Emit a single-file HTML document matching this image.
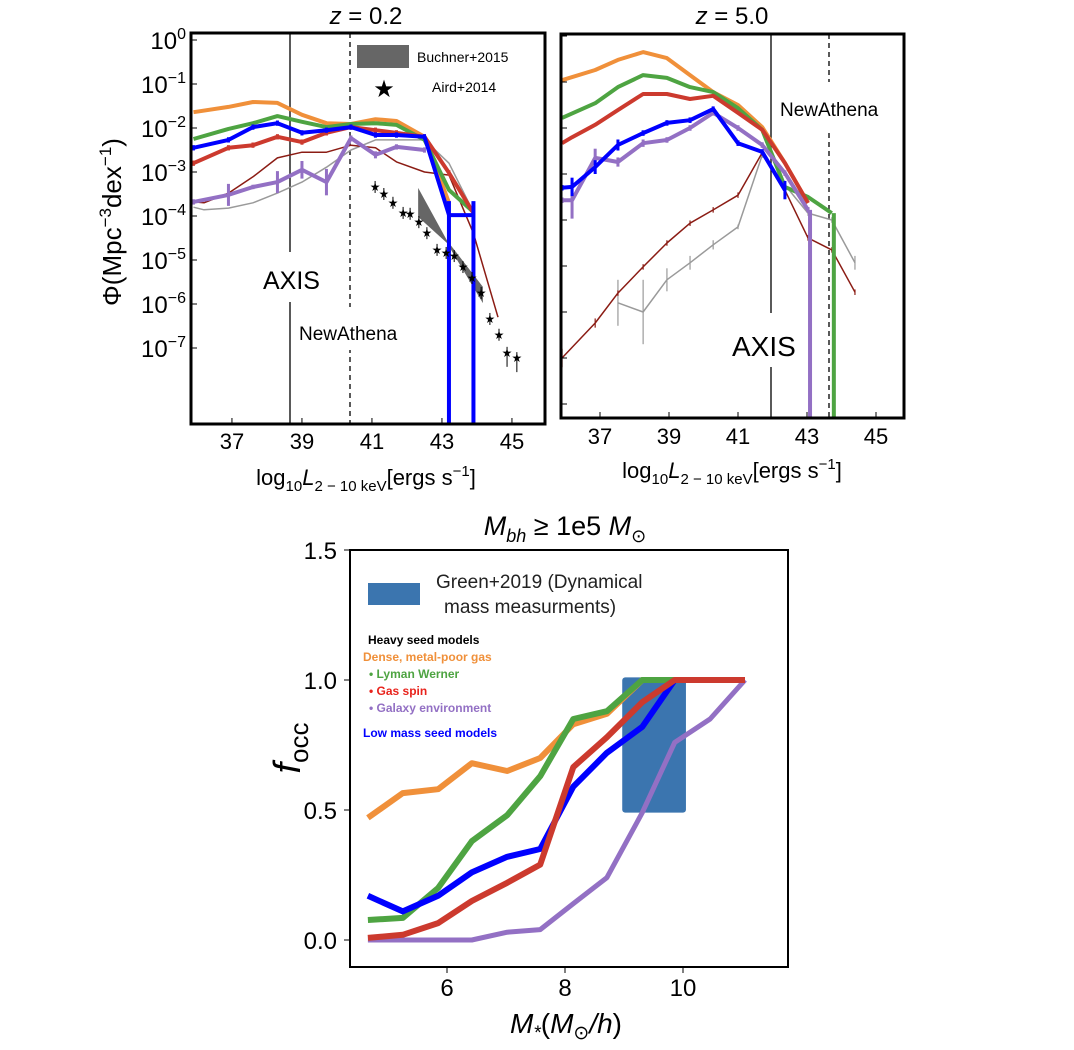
<!DOCTYPE html>
<html><head><meta charset="utf-8"><style>
html,body{margin:0;padding:0;background:#fff;}
svg{display:block;font-family:"Liberation Sans","DejaVu Sans",sans-serif;}
</style></head><body>
<svg id="fig" width="1074" height="1050" viewBox="0 0 1074 1050" xmlns="http://www.w3.org/2000/svg">
<defs>
<clipPath id="c1"><rect x="191" y="33" width="354" height="391"/></clipPath>
<clipPath id="c2"><rect x="561" y="34" width="343" height="384"/></clipPath>
<clipPath id="c3"><rect x="350" y="550" width="438" height="417"/></clipPath>
</defs>
<g id="p1"></g>
<g id="p2"></g>
<g id="p3"></g>
</svg>
<script>
// ---------- data: panel z=0.2 (log10 Phi) ----------
const xA = [35.9,36.9,37.6,38.3,39.0,39.7,40.4,41.1,41.7,42.5,43.2,43.9];
const orangeA = [-1.64,-1.52,-1.41,-1.43,-1.70,-1.89,-1.91,-1.80,-1.84,-2.20,-3.70];
const greenA = [-2.25,-2.02,-1.89,-1.73,-1.86,-1.98,-1.91,-1.89,-1.93,-2.27,-3.41,-3.91];
const blueA = [-2.45,-2.27,-1.98,-1.89,-2.11,-2.05,-1.98,-2.16,-2.16,-2.20,-3.98,-3.98];
const redA = [-2.80,-2.45,-2.39,-2.20,-2.32,-2.11,-1.98,-2.05,-2.11,-2.20,-3.02,-3.93];
const purpleA = [-3.68,-3.52,-3.34,-3.23,-2.95,-3.23,-2.23,-2.61,-2.43,-2.50];
const purpleErrA = [0,0.25,0.05,0.25,0.2,0.3,0,0.08,0.06,0.06];
const xBrownA = [35.9,36.2,36.9,37.6,38.3,39.0,39.7,40.4,41.1,41.7,42.5,43.2,43.9,44.6];
const brownA = [-3.68,-3.70,-3.48,-3.11,-2.68,-2.55,-2.55,-2.39,-2.45,-2.77,-3.0,-3.07,-4.39,-6.30];
const grayA = [-3.80,-3.86,-3.82,-3.70,-3.48,-3.23,-2.89,-2.50,-2.27,-2.27,-2.27,-2.80,-3.91];
const xGrayA = [35.9,36.2,36.9,37.6,38.3,39.0,39.7,40.4,41.1,41.7,42.5,43.2,43.9];
const airdX = [41.09,41.34,41.60,41.89,42.09,42.34,42.57,42.86,43.12,43.35,43.6,43.86,44.12,44.37,44.63,44.86,45.14];
const airdY = [-3.34,-3.50,-3.70,-3.93,-3.95,-4.14,-4.39,-4.77,-4.84,-4.91,-5.16,-5.41,-5.75,-6.34,-6.70,-7.11,-7.23];
const buchX = [42.32,43.14,44.17];
const buchHi = [-3.36,-4.55,-5.61];
const buchLo = [-4.02,-4.61,-5.98];
const yTicksA = [0,-1,-2,-3,-4,-5,-6,-7];
const xTicks = [37,39,41,43,45];
// ---------- data: panel z=5.0 ----------
const xB = [35.9,36.19,36.86,37.52,38.25,38.94,39.61,40.28,41.0,41.7,42.36,43.03,43.72,44.39];
const orangeB = [-0.96,null,-0.74,-0.52,-0.35,-0.48,-0.85,-1.22,-1.50,-1.98,-2.76,-3.63];
const greenB = [-1.78,null,-1.46,-1.11,-0.85,-0.91,-1.11,-1.22,-1.57,-2.04,-3.28,-3.50,-3.85];
const redB = [-2.33,-2.20,-1.93,-1.61,-1.26,-1.26,-1.37,-1.30,-1.67,-2.04,-2.76,-3.63];
const blueB = [-3.30,-3.28,-2.85,-2.37,-2.11,-1.89,-1.83,-1.59,-2.33,-2.52,-3.35];
const purpleB = [-3.57,-3.57,-2.65,-2.74,-2.33,-2.26,-2.0,-1.67,-2.0,-2.37,-2.98,-3.78];
const brownB = [-7.0,null,-6.24,-5.59,-5.02,-4.5,-4.07,-3.78,-3.46,-2.54,-3.35,-4.39,-4.65,-5.57];
const grayB = [null,null,null,-5.80,-6.0,-5.30,-4.93,-4.54,-4.15,-2.59,-3.24,-3.85,-4.0,-4.93];
// ---------- data: occupation panel ----------
const mC = [4.66,5.25,5.85,6.42,7.02,7.58,8.14,8.71,9.31,9.86,10.46,11.05];
const orangeC = [0.47,0.565,0.58,0.68,0.65,0.70,0.83,0.87,1.0,1.0];
const greenC = [0.077,0.085,0.20,0.38,0.48,0.63,0.85,0.88,1.0,1.0];
const blueC = [0.17,0.11,0.17,0.26,0.32,0.35,0.59,0.72,0.82,1.0];
const redC = [0.008,0.02,0.065,0.15,0.22,0.29,0.665,0.78,0.915,1.0,1.0,1.0];
const purpleC = [0,0,0,0,0.03,0.04,0.14,0.24,0.49,0.76,0.85,1.0];
const greenObs = [8.97,10.05,0.49,1.01];
const xTicksC = [6,8,10];
const yTicksC = [0.0,0.5,1.0,1.5];

const NS='http://www.w3.org/2000/svg';
function mk(parent,tag,attrs,text){const e=document.createElementNS(NS,tag);for(const k in attrs)e.setAttribute(k,attrs[k]);if(text!==undefined)e.textContent=text;parent.appendChild(e);return e;}
const C={orange:'#f0903a',green:'#4ea442',blue:'#0000ff',red:'#cc3a2e',purple:'#9370c4',brown:'#8b1c14',gray:'#9a9a9a'};

const xA_=L=>191+(L-35.83)*35, yA_=v=>40-v*44;
const xB_=L=>600+(L-37)*34.5, yB_=v=>36-v*46;
const xC_=m=>447+(m-6)*59, yC_=f=>940-f*260;

function line(g,xs,ys,fx,fy,color,w,name){
  let d='';let started=false;
  ys.forEach((v,i)=>{if(v===null||v===undefined||xs[i]===undefined)return;d+=(started?'L':'M')+fx(xs[i]).toFixed(1)+','+fy(v).toFixed(1);started=true;});
  const p=mk(g,'path',{d:d,fill:'none',stroke:color,'stroke-width':w,'stroke-linejoin':'round'});
  
  
  return p;
}
function errs(g,xs,ys,fx,fy,color,w,e){
  ys.forEach((v,i)=>{if(v===null)return;const ee=e[i]||0.06;if(ee<=0)return;
    const s=mk(g,'line',{x1:fx(xs[i]),x2:fx(xs[i]),y1:fy(v+ee),y2:fy(v-ee),stroke:color,'stroke-width':w});
    
    });
}

// ---------- Panel 1 ----------
(function(){
const g=document.getElementById('p1');
const plot=mk(g,'g',{'clip-path':'url(#c1)'});
mk(plot,'line',{x1:290,x2:290,y1:33,y2:424,stroke:'#000','stroke-width':1.3});
mk(plot,'line',{x1:350,x2:350,y1:33,y2:424,stroke:'#000','stroke-width':1.3,'stroke-dasharray':'5,4'});
let pts=buchX.map((x,i)=>xA_(x)+','+yA_(buchHi[i]));
pts=pts.concat(buchX.slice().reverse().map((x,i)=>xA_(x)+','+yA_(buchLo[buchLo.length-1-i])));
const band=mk(plot,'polygon',{points:pts.join(' '),fill:'#666'});


line(plot,xGrayA,grayA,xA_,yA_,C.gray,1.5,'gray-line');
line(plot,xBrownA,brownA,xA_,yA_,C.brown,1.5,'brown-line');
line(plot,xA,orangeA,xA_,yA_,C.orange,4,'orange-line');
line(plot,xA,greenA,xA_,yA_,C.green,4,'green-line');
line(plot,xA,redA,xA_,yA_,C.red,4,'red-line');
errs(plot,xA,redA,xA_,yA_,C.red,3,[]);
line(plot,xA,purpleA,xA_,yA_,C.purple,4,'purple-line');
errs(plot,xA,purpleA,xA_,yA_,C.purple,3,purpleErrA);
line(plot,xA,blueA,xA_,yA_,C.blue,4,'blue-line');
errs(plot,xA,blueA,xA_,yA_,C.blue,3,[]);
[10,11].forEach(i=>{const v=mk(plot,'line',{x1:xA_(xA[i]),x2:xA_(xA[i]),y1:yA_(blueA[i])-14,y2:430,stroke:C.blue,'stroke-width':4});
 
 });
airdX.forEach((x,i)=>{const cx=xA_(x),cy=yA_(airdY[i]);
 mk(plot,'line',{x1:cx,x2:cx,y1:cy-6,y2:cy+(i>14?14:6),stroke:'#000','stroke-width':1});
 const s=mk(plot,'text',{x:cx,y:cy+4,'text-anchor':'middle','font-size':12},'★');
 
 });
mk(g,'rect',{x:262,y:252,width:68,height:50,fill:'#fff'});
mk(g,'text',{x:263,y:289,'font-size':25,},'AXIS');
mk(g,'rect',{x:298,y:307,width:138,height:43,fill:'#fff'});
mk(g,'text',{x:299,y:340,'font-size':19,},'NewAthena');
mk(g,'rect',{x:357,y:45,width:52,height:23,fill:'#666',});
mk(g,'text',{x:417,y:62,'font-size':14,},'Buchner+2015');
mk(g,'text',{x:384,y:97,'font-size':24,'text-anchor':'middle',},'★');
mk(g,'text',{x:432,y:92,'font-size':14,},'Aird+2014');
mk(g,'rect',{x:191,y:33,width:354,height:391,fill:'none',stroke:'#000','stroke-width':3,});
yTicksA.forEach(v=>{const y=yA_(v);mk(g,'line',{x1:191,x2:197,y1:y,y2:y,stroke:'#000','stroke-width':1});
 const t=mk(g,'text',{x:186,y:y+9,'font-size':24,'text-anchor':'end'});
 
 
 mk(t,'tspan',{},'10');mk(t,'tspan',{dy:-10,'font-size':16},v===0?'0':'−'+(-v));});
xTicks.forEach(v=>{const x=xA_(v);mk(g,'line',{x1:x,x2:x,y1:424,y2:418,stroke:'#000','stroke-width':1});
 const t=mk(g,'text',{x:x,y:449,'font-size':22,'text-anchor':'middle'},String(v));
 
 });
const yl=mk(g,'text',{transform:'translate(121,222) rotate(-90)','text-anchor':'middle','font-size':26,});
mk(yl,'tspan',{},'Φ(Mpc');mk(yl,'tspan',{dy:-10,'font-size':17},'−3');mk(yl,'tspan',{dy:10},'dex');mk(yl,'tspan',{dy:-10,'font-size':17},'−1');mk(yl,'tspan',{dy:10},')');
const xl=mk(g,'text',{x:366,y:485,'text-anchor':'middle','font-size':22,});
mk(xl,'tspan',{},'log');mk(xl,'tspan',{dy:6,'font-size':15},'10');mk(xl,'tspan',{dy:-6,'font-style':'italic'},'L');mk(xl,'tspan',{dy:6,'font-size':15},'2 − 10 keV');mk(xl,'tspan',{dy:-6},'[ergs s');mk(xl,'tspan',{dy:-9,'font-size':15},'−1');mk(xl,'tspan',{dy:9},']');
const ti=mk(g,'text',{x:366,y:24,'text-anchor':'middle','font-size':24,});
mk(ti,'tspan',{'font-style':'italic'},'z');mk(ti,'tspan',{},' = 0.2');
})();

// ---------- Panel 2 ----------
(function(){
const g=document.getElementById('p2');
const plot=mk(g,'g',{'clip-path':'url(#c2)'});
mk(plot,'line',{x1:771,x2:771,y1:34,y2:418,stroke:'#000','stroke-width':1.3});
mk(plot,'line',{x1:829,x2:829,y1:34,y2:418,stroke:'#000','stroke-width':1.3,'stroke-dasharray':'5,4'});
line(plot,xB,grayB,xB_,yB_,C.gray,1.5,'gray-line');
errs(plot,xB,grayB,xB_,yB_,C.gray,1.2,[0,0,0,0.5,0.7,0.25,0.15,0.1,0.05,0,0,0,0,0.15]);
line(plot,xB,brownB,xB_,yB_,C.brown,1.5,'brown-line');
errs(plot,xB,brownB,xB_,yB_,C.brown,1.2,[0.2,0,0.1]);
line(plot,xB,orangeB,xB_,yB_,C.orange,4,'orange-line');
line(plot,xB,greenB,xB_,yB_,C.green,4,'green-line');
line(plot,xB,redB,xB_,yB_,C.red,4,'red-line');
line(plot,xB,purpleB,xB_,yB_,C.purple,4,'purple-line');
errs(plot,xB,purpleB,xB_,yB_,C.purple,3,[0,0.4,0.2,0.1,0.08]);
line(plot,xB,blueB,xB_,yB_,C.blue,4,'blue-line');
errs(plot,xB,blueB,xB_,yB_,C.blue,3,[0,0.2,0.15,0.12,0,0,0,0,0,0,0.2]);
[[11,purpleB,C.purple,'purple-drop'],[12,greenB,C.green,'green-drop']].forEach(a=>{
 const v=mk(plot,'line',{x1:xB_(xB[a[0]])+2,x2:xB_(xB[a[0]])+2,y1:yB_(a[1][a[0]]),y2:420,stroke:a[2],'stroke-width':4});
 
 });
mk(g,'rect',{x:732,y:313,width:76,height:54,fill:'#fff'});
mk(g,'text',{x:732,y:356,'font-size':28,},'AXIS');
mk(g,'rect',{x:778,y:82,width:126,height:48,fill:'#fff'});
mk(g,'text',{x:780,y:116,'font-size':19,},'NewAthena');
mk(g,'rect',{x:561,y:34,width:343,height:384,fill:'none',stroke:'#000','stroke-width':3,});
yTicksA.concat([-8]).forEach(v=>{const y=yB_(v);mk(g,'line',{x1:561,x2:567,y1:y,y2:y,stroke:'#000','stroke-width':1});});
xTicks.forEach(v=>{const x=xB_(v);mk(g,'line',{x1:x,x2:x,y1:418,y2:412,stroke:'#000','stroke-width':1});
 const t=mk(g,'text',{x:x,y:444,'font-size':22,'text-anchor':'middle'},String(v));
 
 });
const xl=mk(g,'text',{x:732,y:478,'text-anchor':'middle','font-size':22,});
mk(xl,'tspan',{},'log');mk(xl,'tspan',{dy:6,'font-size':15},'10');mk(xl,'tspan',{dy:-6,'font-style':'italic'},'L');mk(xl,'tspan',{dy:6,'font-size':15},'2 − 10 keV');mk(xl,'tspan',{dy:-6},'[ergs s');mk(xl,'tspan',{dy:-9,'font-size':15},'−1');mk(xl,'tspan',{dy:9},']');
const ti=mk(g,'text',{x:732,y:24,'text-anchor':'middle','font-size':24,});
mk(ti,'tspan',{'font-style':'italic'},'z');mk(ti,'tspan',{},' = 5.0');
})();

// ---------- Panel 3 ----------
(function(){
const g=document.getElementById('p3');
const plot=mk(g,'g',{'clip-path':'url(#c3)'});
const r=mk(plot,'rect',{x:xC_(greenObs[0]),y:yC_(greenObs[3]),width:xC_(greenObs[1])-xC_(greenObs[0]),height:yC_(greenObs[2])-yC_(greenObs[3]),fill:'#3b75af',rx:3});


line(plot,mC,orangeC,xC_,yC_,C.orange,6,'orange-line');
line(plot,mC,greenC,xC_,yC_,C.green,6,'green-line');
line(plot,mC,purpleC,xC_,yC_,C.purple,5,'purple-line');
line(plot,mC,blueC,xC_,yC_,C.blue,6,'blue-line');
line(plot,mC,redC,xC_,yC_,C.red,6,'red-line');
mk(g,'rect',{x:350,y:550,width:438,height:417,fill:'none',stroke:'#000','stroke-width':2,});
yTicksC.forEach(v=>{const y=yC_(v);mk(g,'line',{x1:350,x2:344,y1:y,y2:y,stroke:'#000','stroke-width':1});
 const t=mk(g,'text',{x:337,y:y+9,'font-size':24,'text-anchor':'end'},v.toFixed(1));
 
 });
xTicksC.forEach(v=>{const x=xC_(v);mk(g,'line',{x1:x,x2:x,y1:967,y2:973,stroke:'#000','stroke-width':1});
 const t=mk(g,'text',{x:x,y:996,'font-size':24,'text-anchor':'middle'},String(v));
 
 });
mk(g,'rect',{x:368,y:583,width:52,height:22,fill:'#3b75af',});
mk(g,'text',{x:436,y:588,'font-size':19,fill:'#222',},'Green+2019 (Dynamical');
mk(g,'text',{x:444,y:613,'font-size':19,fill:'#222'},'mass measurments)');
mk(g,'text',{x:368,y:644,'font-size':12,'font-weight':'bold',fill:'#000',},'Heavy seed models');
mk(g,'text',{x:363,y:661,'font-size':12,'font-weight':'bold',fill:C.orange,},'Dense, metal-poor gas');
mk(g,'text',{x:369,y:678,'font-size':12,'font-weight':'bold',fill:C.green,},'•  Lyman Werner');
mk(g,'text',{x:369,y:695,'font-size':12,'font-weight':'bold',fill:'#e8231c',},'•  Gas spin');
mk(g,'text',{x:369,y:712,'font-size':12,'font-weight':'bold',fill:C.purple,},'•  Galaxy environment');
mk(g,'text',{x:363,y:737,'font-size':12,'font-weight':'bold',fill:C.blue,},'Low mass seed models');
const ti=mk(g,'text',{x:565,y:535,'text-anchor':'middle','font-size':27,});
mk(ti,'tspan',{'font-style':'italic'},'M');mk(ti,'tspan',{dy:7,'font-size':18,'font-style':'italic'},'bh');mk(ti,'tspan',{dy:-7},' ≥ 1e5 ');mk(ti,'tspan',{'font-style':'italic'},'M');mk(ti,'tspan',{dy:7,'font-size':18},'⊙');
const yl=mk(g,'text',{transform:'translate(300,748) rotate(-90)','text-anchor':'middle','font-size':38,});
mk(yl,'tspan',{'font-style':'italic'},'f');mk(yl,'tspan',{dy:8,'font-size':26},'occ');
const xl=mk(g,'text',{x:566,y:1033,'text-anchor':'middle','font-size':28,});
mk(xl,'tspan',{'font-style':'italic'},'M');mk(xl,'tspan',{dy:6,'font-size':19,'font-style':'italic'},'*');mk(xl,'tspan',{dy:-6},'(');mk(xl,'tspan',{'font-style':'italic'},'M');mk(xl,'tspan',{dy:6,'font-size':19},'⊙');mk(xl,'tspan',{dy:-6,'font-style':'italic'},'/h');mk(xl,'tspan',{},')');
})();
</script>
</body></html>
